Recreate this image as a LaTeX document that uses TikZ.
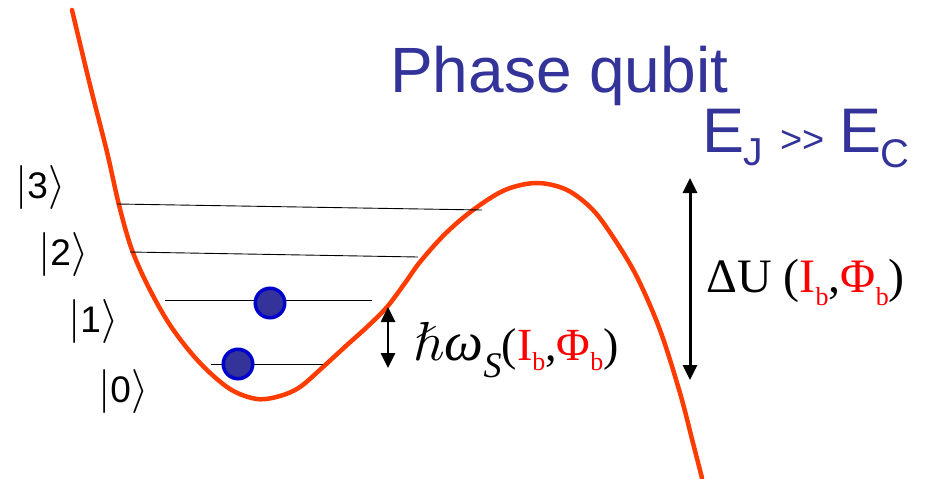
\documentclass[tikz,border=0pt]{standalone}
\usepackage{fontspec}
\usepackage{unicode-math}
\setmainfont{Liberation Serif}
\newfontfamily\arialfont{Liberation Sans}
\usetikzlibrary{arrows.meta}
\definecolor{qblue}{RGB}{51,51,153}
\definecolor{qred}{RGB}{255,0,0}
\definecolor{qcurve}{RGB}{255,60,0}
\definecolor{qball}{RGB}{51,51,153}
\definecolor{qballedge}{RGB}{0,0,204}
\newcommand\myket[1]{{\fontsize{44}{48}\selectfont$|$}{\fontsize{37}{40}\selectfont\arialfont #1}{\fontsize{44}{48}\selectfont$\rangle$}}
\newcommand\myredsub[2]{\raisebox{-#1pt}{\fontsize{26}{28}\selectfont\color{qred}#2}}
\tikzset{
  potential/.style={draw=qcurve, line width=4.5pt, line cap=round, line join=round},
  level/.style={draw=black, line width=0.9pt},
  ball/.style={circle, fill=qball, draw=qballedge, line width=3.5pt, minimum size=29.5pt, inner sep=0pt},
  gaparrow/.style={draw=black, line width=2.6pt, {Triangle[width=14pt,length=15pt]}-{Triangle[width=14pt,length=15pt]}},
  ketlabel/.style={anchor=base west, inner sep=0pt},
  txt/.style={anchor=base west, inner sep=0pt}
}
\begin{document}
\begin{tikzpicture}[x=1pt,y=-1pt]
\useasboundingbox (0,0) rectangle (937,479);
% potential curve
\draw[potential] plot[smooth, tension=0.55] coordinates {
 (72,10) (90,85) (107,152) (119,205) (132,250) (150,290) (172,328)
 (200,363) (230,389) (257,399) (280,396) (300,387) (323,367) (347,345)
 (367,327) (387,307) (405,283) (420,262) (445,234) (473,210) (505,190)
 (537,183) (567,190) (593,210) (615,240) (637,277) (660,330) (680,393)
 (693,443) (702,478)};
% energy levels
\coordinate (l3a) at (117,204); \coordinate (l3b) at (482,210);
\coordinate (l2a) at (130,252); \coordinate (l2b) at (418,257);
\coordinate (l1a) at (165,300); \coordinate (l1b) at (372,300);
\coordinate (l0a) at (211,364); \coordinate (l0b) at (323,364);
\draw[level] (l3a) -- (l3b);
\draw[level] (l2a) -- (l2b);
\draw[level] (l1a) -- (l1b);
\draw[level] (l0a) -- (l0b);
% balls
\node[ball] (b1) at (270,303) {};
\node[ball] (b0) at (238,364) {};
% ket labels
\node[ketlabel] (k3) at (15,198) {\myket{3}};
\node[ketlabel] (k2) at (38,265) {\myket{2}};
\node[ketlabel] (k1) at (68,332) {\myket{1}};
\node[ketlabel] (k0) at (98,402) {\myket{0}};
% arrows
\coordinate (sa) at (388,307); \coordinate (sb) at (388,368);
\draw[gaparrow] (sa) -- (sb);
\coordinate (ba) at (690,178); \coordinate (bb) at (690,380);
\draw[gaparrow, line width=3pt] (ba) -- (bb);
% titles
\node[txt, text=qblue] (title) at (390,92) {\fontsize{64}{70}\selectfont\arialfont Phase qubit};
\node[txt, text=qblue] (ejec) at (702,152) {\arialfont\fontsize{63}{70}\selectfont E\kern-1pt\raisebox{-13pt}{\fontsize{39}{42}\selectfont J}\hspace{18pt}{\fontsize{38}{42}\selectfont >>}\hspace{14pt}E\kern-1pt\raisebox{-15pt}{\fontsize{40}{42}\selectfont C}};
% formulas
\node[txt] (hw) at (413,360) {{\fontsize{55}{60}\selectfont$\hbar$\itshape ω}\raisebox{-17pt}{\fontsize{36}{40}\selectfont\itshape S}{\fontsize{46}{50}\selectfont(\textcolor{qred}{I}\myredsub{10}{b},\textcolor{qred}{Φ}\myredsub{10}{b})}};
\node[txt] (du) at (706,292) {\fontsize{48}{52}\selectfont ΔU (\textcolor{qred}{I}\myredsub{13}{b},\textcolor{qred}{Φ}\myredsub{13}{b})};
\end{tikzpicture}
\end{document}
